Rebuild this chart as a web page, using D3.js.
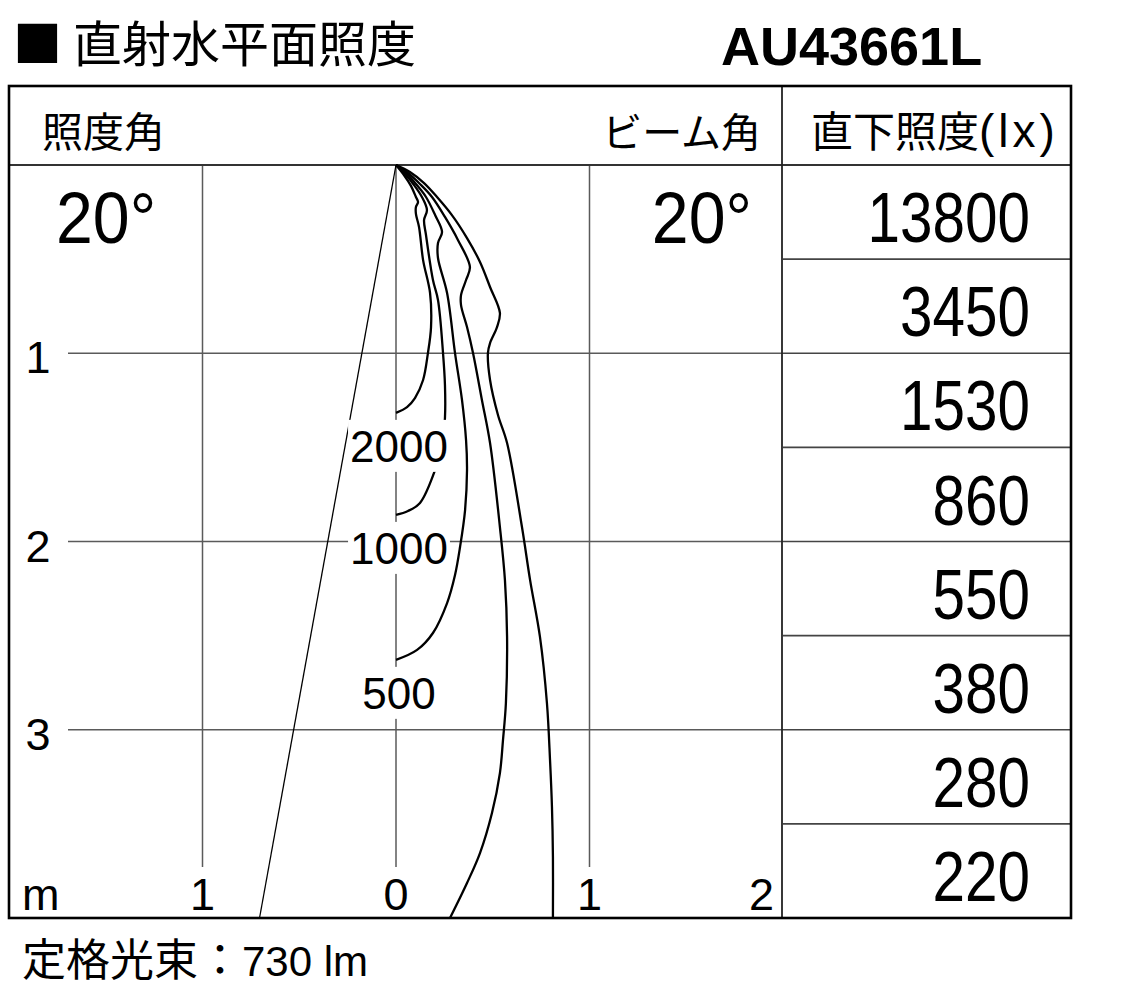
<!DOCTYPE html>
<html><head><meta charset="utf-8">
<script src="https://cdn.jsdelivr.net/npm/d3@7"></script>
<style>body{margin:0;background:#fff}</style>
</head><body><svg id="c" width="1122" height="999"></svg>
<script>
// ---- data ----
const heights = [0.5, 1, 1.5, 2, 2.5, 3, 3.5, 4];            // m below lamp
const directLux = [13800, 3450, 1530, 860, 550, 380, 280, 220]; // 直下照度 (lx)
const xTicks = [-1, 0, 1, 2];
const yTicks = [1, 2, 3];
const illumAngleLabel = "20°";
const beamAngleLabel = "20°";
const beamAngleDeg = 20;
const labelledLevels = [2000, 1000, 500];
// isolux contours [x m, depth m]
const isolux2000 = [[0,0],[0.041,0.053],[0.078,0.112],[0.103,0.170],[0.114,0.197],[0.103,0.223],[0.103,0.260],[0.119,0.329],[0.140,0.505],[0.176,0.680],[0.181,0.861],[0.165,0.999],[0.140,1.142],[0.098,1.238],[0.057,1.286],[0,1.317]];
const isolux1000 = [[0,0],[0.047,0.048],[0.093,0.106],[0.134,0.170],[0.160,0.239],[0.145,0.292],[0.155,0.372],[0.191,0.611],[0.217,0.717],[0.243,0.999],[0.253,1.169],[0.253,1.344],[0.238,1.487],[0.202,1.620],[0.124,1.795],[0.062,1.838],[0,1.859]];
const isolux500 = [[0,0],[0.052,0.042],[0.103,0.101],[0.155,0.170],[0.202,0.266],[0.238,0.356],[0.217,0.414],[0.217,0.494],[0.264,0.680],[0.305,0.999],[0.341,1.248],[0.362,1.461],[0.367,1.620],[0.357,1.833],[0.331,2.029],[0.305,2.178],[0.264,2.327],[0.191,2.486],[0.109,2.576],[0,2.629]];
const isolux200 = [[0,0],[0.062,0.042],[0.124,0.101],[0.186,0.170],[0.253,0.276],[0.320,0.398],[0.382,0.542],[0.362,0.611],[0.336,0.691],[0.336,0.744],[0.367,0.861],[0.398,0.999],[0.444,1.248],[0.486,1.477],[0.537,1.923],[0.563,2.205],[0.574,2.507],[0.568,2.858],[0.553,3.054],[0.537,3.230],[0.496,3.442],[0.434,3.655],[0.367,3.814],[0.279,4.0]];
const isolux100 = [[0,0],[0.072,0.037],[0.145,0.096],[0.212,0.170],[0.289,0.266],[0.367,0.388],[0.434,0.515],[0.486,0.648],[0.537,0.786],[0.522,0.861],[0.486,0.946],[0.475,0.999],[0.486,1.142],[0.527,1.328],[0.574,1.477],[0.651,1.923],[0.693,2.205],[0.744,2.507],[0.780,2.858],[0.796,3.161],[0.806,3.410],[0.811,3.676],[0.811,4.0]];

// ---- drawing ----
const CJK = "'Noto Sans CJK JP', sans-serif";
const LAT = "'Liberation Sans', Arial, sans-serif";
const svg = d3.select("#c");
const x = d3.scaleLinear().domain([-2, 2]).range([9, 783]);
const y = d3.scaleLinear().domain([0, 4]).range([165, 918]);
const boxL = 9, boxR = 1071, boxT = 86, boxB = y(4);

// title
svg.append("text").attr("x", 13).attr("y", 62).attr("font-family", CJK).attr("font-size", 49)
  .text("■ 直射水平面照度");
svg.append("text").attr("x", 721).attr("y", 65).attr("font-family", LAT).attr("font-weight", "bold")
  .attr("font-size", 54).text("AU43661L");

// grid
const g = svg.append("g");
g.selectAll(".vg").data(xTicks.filter(t => t < 2)).join("line")
  .attr("x1", d => x(d)).attr("x2", d => x(d)).attr("y1", y(0)).attr("y2", y(4) - 51)
  .attr("stroke", "#5a5a5a").attr("stroke-width", 1.5);
g.selectAll(".hg").data(yTicks).join("line")
  .attr("x1", 68).attr("x2", x(2)).attr("y1", d => y(d)).attr("y2", d => y(d))
  .attr("stroke", "#5a5a5a").attr("stroke-width", 1.5);

// table rows
g.selectAll(".row").data(heights.slice(0, -1)).join("line")
  .attr("x1", x(2)).attr("x2", boxR).attr("y1", d => y(d)).attr("y2", d => y(d))
  .attr("stroke", "#444").attr("stroke-width", 1.6);
svg.append("line").attr("x1", boxL).attr("x2", boxR).attr("y1", y(0)).attr("y2", y(0))
  .attr("stroke", "#333").attr("stroke-width", 1.8);
svg.append("line").attr("x1", x(2) - 1).attr("x2", x(2) - 1).attr("y1", boxT).attr("y2", boxB)
  .attr("stroke", "#222").attr("stroke-width", 1.8);

// beam line
const half = beamAngleDeg / 2 * Math.PI / 180;
svg.append("line").attr("x1", x(0)).attr("y1", y(0)).attr("x2", x(-4 * Math.tan(half))).attr("y2", y(4))
  .attr("stroke", "#000").attr("stroke-width", 1.3);

// contours
const line = d3.line().x(d => x(d[0])).y(d => y(d[1])).curve(d3.curveCatmullRom.alpha(0.5));
const contours = [isolux2000, isolux1000, isolux500, isolux200, isolux100];
svg.selectAll(".iso").data(contours).join("path")
  .attr("d", line).attr("fill", "none").attr("stroke", "#000").attr("stroke-width", 2.3);

// contour labels
labelledLevels.forEach((lv, i) => {
  const c = contours[i];
  const endY = c[c.length - 1][1];
  const by = y(endY + 0.175) + 16;
  const t = svg.append("text").attr("x", x(0) + 3).attr("y", by).attr("text-anchor", "middle")
    .attr("font-family", LAT).attr("font-size", 44).text(lv);
  const bb = t.node().getBBox();
  svg.insert("rect", () => t.node()).attr("x", bb.x - 2).attr("width", bb.width + 4)
    .attr("y", by - 42).attr("height", 52).attr("fill", "#fff");
});

// axis labels
svg.selectAll(".yl").data(yTicks).join("text")
  .attr("x", 38).attr("y", d => y(d) + 20).attr("text-anchor", "middle")
  .attr("font-family", LAT).attr("font-size", 45).text(d => d);
svg.selectAll(".xl").data(xTicks).join("text")
  .attr("x", d => d === 2 ? x(d) - 9 : x(d)).attr("y", y(4) - 8)
  .attr("text-anchor", d => d === 2 ? "end" : "middle")
  .attr("font-family", LAT).attr("font-size", 45).text(d => Math.abs(d));
svg.append("text").attr("x", 22).attr("y", y(4) - 8).attr("font-family", LAT).attr("font-size", 45).text("m");

// header
svg.append("text").attr("x", 42).attr("y", 147).attr("font-family", CJK).attr("font-size", 41).text("照度角");
svg.append("text").attr("x", 761).attr("y", 147).attr("text-anchor", "end").attr("font-family", CJK).attr("font-size", 40).text("ビーム角");
const hd = svg.append("text").attr("x", 811).attr("y", 147).attr("font-family", CJK).attr("font-size", 42);
hd.append("tspan").text("直下照度");
hd.append("tspan").attr("font-family", LAT).attr("font-size", 46).attr("letter-spacing", 4).text("(lx)");

// angle labels (condensed)
svg.append("text").attr("transform", "translate(56,243) scale(0.92,1)")
  .attr("font-family", LAT).attr("font-size", 72).text(illumAngleLabel);
svg.append("text").attr("transform", "translate(752,243) scale(0.92,1)").attr("text-anchor", "end")
  .attr("font-family", LAT).attr("font-size", 72).text(beamAngleLabel);

// table values (condensed)
svg.selectAll(".tv").data(directLux).join("text")
  .attr("transform", (d, i) => `translate(1030,${y(heights[i]) - 17}) scale(0.835,1)`)
  .attr("text-anchor", "end")
  .attr("font-family", LAT).attr("font-size", 70).text(d => d);

// outer box
svg.append("rect").attr("x", boxL).attr("y", boxT).attr("width", boxR - boxL).attr("height", boxB - boxT)
  .attr("fill", "none").attr("stroke", "#000").attr("stroke-width", 2.6);

// footer
const ft = svg.append("text").attr("x", 22).attr("y", 976).attr("font-family", CJK).attr("font-size", 44);
ft.append("tspan").text("定格光束：");
ft.append("tspan").attr("font-family", LAT).attr("font-size", 42).text("730 lm");
</script></body></html>
